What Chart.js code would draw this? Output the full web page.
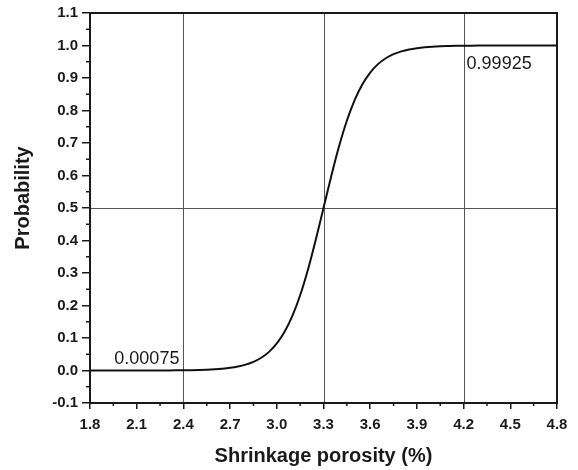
<!DOCTYPE html>
<html>
<head>
<meta charset="utf-8">
<script src="https://cdn.jsdelivr.net/npm/chart.js@4/dist/chart.umd.min.js"></script>
<style>
html,body{margin:0;padding:0;background:#fff;}
#wrap{width:578px;height:470px;}
</style>
</head>
<body>
<div id="wrap"><canvas id="c" width="578" height="470"></canvas></div>
<script>
// Data
const porosity = [1.80,1.85,1.90,1.95,2.00,2.05,2.10,2.15,2.20,2.25,2.30,2.35,2.40,2.45,2.50,2.55,2.60,2.65,2.70,2.75,2.80,2.85,2.90,2.95,3.00,3.05,3.10,3.15,3.20,3.25,3.30,3.35,3.40,3.45,3.50,3.55,3.60,3.65,3.70,3.75,3.80,3.85,3.90,3.95,4.00,4.05,4.10,4.15,4.20,4.25,4.30,4.35,4.40,4.45,4.50,4.55,4.60,4.65,4.70,4.75,4.80];
const probability = [0.000006,0.000009,0.000014,0.00002,0.00003,0.000045,0.000068,0.0001,0.00015,0.000225,0.000335,0.0005,0.00075,0.00111,0.00166,0.00247,0.00368,0.00549,0.00816,0.0121,0.018,0.0266,0.0392,0.0573,0.0832,0.1192,0.168,0.2315,0.31,0.4013,0.5,0.5987,0.69,0.7685,0.832,0.8808,0.9168,0.9427,0.9608,0.9734,0.982,0.9879,0.9918,0.9945,0.9963,0.9975,0.9983,0.999,0.99925,0.9995,0.9997,0.9998,0.9998,0.9999,0.9999,0.99995,0.99997,0.99998,0.99999,0.99999,0.99999];
const refX = [2.4, 3.3, 4.2];
const refY = [0.5];
const annotations = [
  {x: 2.4, y: 0.00075, text: '0.00075', side: 'left'},
  {x: 4.2, y: 0.99925, text: '0.99925', side: 'right'}
];
const xTitle = 'Shrinkage porosity (%)';
const yTitle = 'Probability';

const FONT = '"Liberation Sans", Arial, Helvetica, sans-serif';

const points = porosity.map((x, i) => ({x: x, y: probability[i]}));

const decor = {
  id: 'decor',
  beforeDatasetsDraw(chart) {
    const {ctx, chartArea: a, scales: {x, y}} = chart;
    ctx.save();
    ctx.strokeStyle = '#555';
    ctx.lineWidth = 1;
    refX.forEach(v => {
      const px = Math.round(x.getPixelForValue(v)) + 0.5;
      ctx.beginPath(); ctx.moveTo(px, a.top); ctx.lineTo(px, a.bottom); ctx.stroke();
    });
    refY.forEach(v => {
      const py = Math.round(y.getPixelForValue(v)) + 0.5;
      ctx.beginPath(); ctx.moveTo(a.left, py); ctx.lineTo(a.right, py); ctx.stroke();
    });
    ctx.restore();
  },
  afterDraw(chart) {
    const {ctx, chartArea: a, scales: {x, y}} = chart;
    ctx.save();
    // frame
    ctx.strokeStyle = '#1a1a1a';
    ctx.lineWidth = 2;
    ctx.strokeRect(a.left, a.top, a.right - a.left, a.bottom - a.top);
    // minor ticks
    ctx.lineWidth = 1.5;
    for (let v = 1.95; v < 4.8; v += 0.3) {
      const px = x.getPixelForValue(v);
      ctx.beginPath(); ctx.moveTo(px, a.bottom); ctx.lineTo(px, a.bottom + 3); ctx.stroke();
    }
    for (let v = -0.05; v < 1.1; v += 0.1) {
      const py = y.getPixelForValue(v);
      ctx.beginPath(); ctx.moveTo(a.left, py); ctx.lineTo(a.left - 4, py); ctx.stroke();
    }
    // annotations
    ctx.fillStyle = '#1a1a1a';
    ctx.font = '18px ' + FONT;
    annotations.forEach(an => {
      const px = x.getPixelForValue(an.x);
      const py = y.getPixelForValue(an.y);
      if (an.side === 'left') {
        ctx.textAlign = 'right'; ctx.textBaseline = 'alphabetic';
        ctx.fillText(an.text, px - 4, py - 6);
      } else {
        ctx.textAlign = 'left'; ctx.textBaseline = 'alphabetic';
        ctx.fillText(an.text, px + 3, py + 23);
      }
    });
    // axis titles
    ctx.font = 'bold 20px ' + FONT;
    ctx.textAlign = 'center'; ctx.textBaseline = 'middle';
    ctx.fillText(xTitle, (a.left + a.right) / 2, 456);
    ctx.translate(23, 198);
    ctx.rotate(-Math.PI / 2);
    ctx.fillText(yTitle, 0, 0);
    ctx.restore();
  }
};

new Chart(document.getElementById('c'), {
  type: 'scatter',
  data: {
    datasets: [{
      data: points,
      showLine: true,
      borderColor: '#111',
      borderWidth: 2,
      pointRadius: 0,
      cubicInterpolationMode: 'monotone',
      fill: false
    }]
  },
  options: {
    responsive: false,
    animation: false,
    devicePixelRatio: 1,
    layout: {padding: {left: 0, right: 21, top: 13, bottom: 0}},
    plugins: {legend: {display: false}, tooltip: {enabled: false}},
    scales: {
      x: {
        type: 'linear',
        min: 1.8, max: 4.8,
        afterFit(s) { s.height = 67; },
        afterBuildTicks(s) {
          const t = [];
          for (let i = 0; i <= 10; i++) t.push({value: +(1.8 + 0.3 * i).toFixed(1)});
          s.ticks = t;
        },
        ticks: {
          callback: v => v.toFixed(1),
          color: '#1a1a1a',
          font: {family: FONT, size: 15, weight: 'bold'},
          padding: 7,
          maxRotation: 0,
          autoSkip: false
        },
        grid: {display: true, drawOnChartArea: false, drawTicks: true, tickLength: 6, color: '#1a1a1a', lineWidth: 1.5},
        border: {display: true, color: '#1a1a1a', width: 2}
      },
      y: {
        type: 'linear',
        min: -0.1, max: 1.1,
        afterFit(s) { s.width = 90; },
        afterBuildTicks(s) {
          const t = [];
          for (let i = 0; i <= 12; i++) t.push({value: +(-0.1 + 0.1 * i).toFixed(1)});
          s.ticks = t;
        },
        ticks: {
          callback: v => v.toFixed(1),
          color: '#1a1a1a',
          font: {family: FONT, size: 15, weight: 'bold'},
          padding: 4,
          autoSkip: false
        },
        grid: {display: true, drawOnChartArea: false, drawTicks: true, tickLength: 8, color: '#1a1a1a', lineWidth: 1.5},
        border: {display: true, color: '#1a1a1a', width: 2}
      }
    }
  },
  plugins: [decor]
});
</script>
</body>
</html>
